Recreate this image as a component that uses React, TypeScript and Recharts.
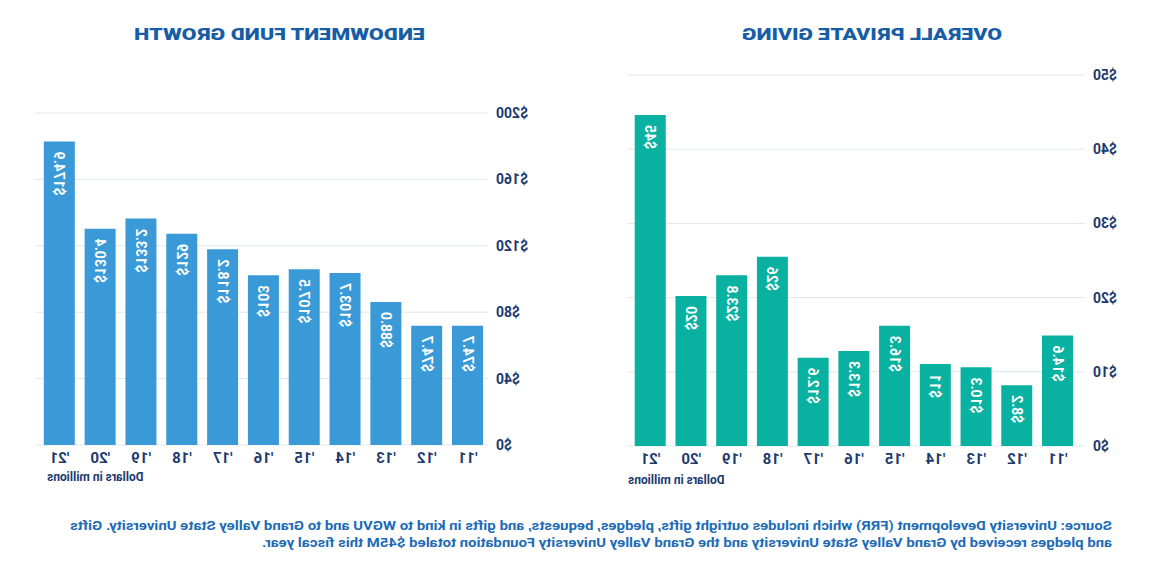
import { BarChart, Bar, XAxis, YAxis, CartesianGrid, LabelList } from "recharts";

const years = ["'11", "'12", "'13", "'14", "'15", "'16", "'17", "'18", "'19", "'20", "'21"];

// overall private giving, bar heights as drawn and the printed labels
const givingValues = [14.9, 8.2, 10.6, 11.05, 16.2, 12.8, 11.9, 25.5, 23.0, 20.2, 44.6];
const givingLabels = ["$14.6", "$8.2", "$10.3", "$11", "$16.3", "$13.3", "$12.6", "$26", "$23.8", "$20", "$45"];
const givingTicks = [0, 10, 20, 30, 40, 50];

// endowment fund growth
const endowValues = [71.8, 71.8, 86.2, 103.6, 105.9, 102.3, 117.9, 127.3, 136.4, 130.3, 182.8];
const endowLabels = ["$74.7", "$74.7", "$88.0", "$103.7", "$107.5", "$103", "$118.2", "$129", "$133.2", "$130.4", "$174.9"];
const endowTicks = [0, 40, 80, 120, 160, 200];

const sourceLines = [
  "Source: University Development (FRR) which includes outright gifts, pledges, bequests, and gifts in kind to WGVU and to Grand Valley State University. Gifts",
  "and pledges received by Grand Valley State University and the Grand Valley University Foundation totaled $45M this fiscal year.",
];

const NAVY = "#1c3a6e";
const TITLE = "#175da6";
const FONT = "Roboto, 'DejaVu Sans', sans-serif";

const givingData = years.map((y, i) => ({ year: y, value: givingValues[i], label: givingLabels[i] }));
const endowData = years.map((y, i) => ({ year: y, value: endowValues[i], label: endowLabels[i] }));

const YTick = (props: any) => {
  const { x, y, payload } = props;
  return (
    <text x={x} y={y} textAnchor="end" dominantBaseline="central" fill={NAVY} fontSize={14} fontWeight={700} fontFamily={FONT}>
      {"$" + payload.value}
    </text>
  );
};

const XTick = (props: any) => {
  const { x, y, payload } = props;
  return (
    <text x={x} y={y + 5} textAnchor="middle" dominantBaseline="central" fill={NAVY} fontSize={15} fontWeight={700} fontFamily={FONT}>
      {payload.value}
    </text>
  );
};

const BarLabel = (props: any) => {
  const { x, y, width, value } = props;
  const cx = x + width / 2;
  const cy = y + 10;
  return (
    <text
      x={cx}
      y={cy}
      transform={`rotate(-90, ${cx}, ${cy})`}
      textAnchor="end"
      dominantBaseline="central"
      fill="#ffffff"
      fontSize={14}
      fontWeight={700}
      fontFamily={FONT}
    >
      {value}
    </text>
  );
};

const caption: React.CSSProperties = {
  position: "absolute",
  fontFamily: FONT,
  fontSize: 12,
  fontWeight: 700,
  color: NAVY,
  whiteSpace: "nowrap",
};

export default function App() {
  return (
    <div
      style={{
        position: "absolute",
        left: 0,
        top: 0,
        width: 1157,
        height: 572,
        background: "#fff",
        transform: "scaleX(-1)",
        overflow: "hidden",
      }}
    >
      <svg width={1157} height={60} style={{ position: "absolute", left: 0, top: 0 }}>
        <text x={155} y={40} textLength={260} lengthAdjust="spacingAndGlyphs" fill={TITLE} fontSize={17} fontWeight={900} fontFamily={FONT}>
          OVERALL PRIVATE GIVING
        </text>
        <text x={732} y={40} textLength={291} lengthAdjust="spacingAndGlyphs" fill={TITLE} fontSize={17} fontWeight={900} fontFamily={FONT}>
          ENDOWMENT FUND GROWTH
        </text>
      </svg>

      <div style={{ position: "absolute", left: 0, top: 0 }}>
        <BarChart width={560} height={500} data={givingData} margin={{ top: 75, right: 30, bottom: 24, left: 0 }} barCategoryGap={0}>
          <CartesianGrid vertical={false} stroke="#e3e7ea" />
          <XAxis dataKey="year" axisLine={false} tickLine={false} height={30} padding={{ left: 7, right: 3 }} tick={<XTick />} interval={0} />
          <YAxis width={72} domain={[0, 50]} ticks={givingTicks} axisLine={false} tickLine={false} tick={<YTick />} />
          <Bar dataKey="value" fill="#09b1a1" barSize={31} isAnimationActive={false}>
            <LabelList dataKey="label" content={<BarLabel />} />
          </Bar>
        </BarChart>
      </div>

      <div style={{ position: "absolute", left: 600, top: 0 }}>
        <BarChart width={557} height={500} data={endowData} margin={{ top: 113, right: 35, bottom: 25, left: 0 }} barCategoryGap={0}>
          <CartesianGrid vertical={false} stroke="#e3e7ea" />
          <XAxis dataKey="year" axisLine={false} tickLine={false} height={30} padding={{ left: 0, right: 4 }} tick={<XTick />} interval={0} />
          <YAxis width={69} domain={[0, 200]} ticks={endowTicks} axisLine={false} tickLine={false} tick={<YTick />} />
          <Bar dataKey="value" fill="#3a9ad8" barSize={31} isAnimationActive={false}>
            <LabelList dataKey="label" content={<BarLabel />} />
          </Bar>
        </BarChart>
      </div>

      <div style={{ ...caption, right: 1157 - 529, top: 473 }}>Dollars in millions</div>
      <div style={{ ...caption, right: 1157 - 1110, top: 470 }}>Dollars in millions</div>

      <svg width={1157} height={60} style={{ position: "absolute", left: 0, top: 512 }}>
        <text x={45} y={18} textLength={1042} lengthAdjust="spacingAndGlyphs" fill="#1d6bb5" fontSize={12} fontWeight={700} fontFamily={FONT}>
          {sourceLines[0]}
        </text>
        <text x={45} y={35} textLength={850} lengthAdjust="spacingAndGlyphs" fill="#1d6bb5" fontSize={12} fontWeight={700} fontFamily={FONT}>
          {sourceLines[1]}
        </text>
      </svg>
    </div>
  );
}
